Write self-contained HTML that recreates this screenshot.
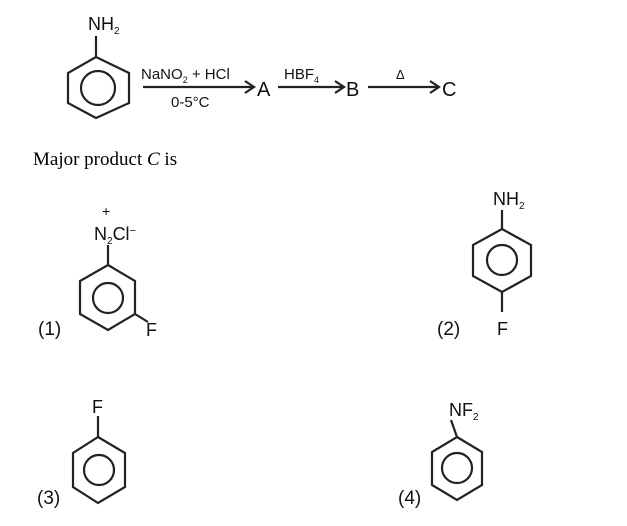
<!DOCTYPE html>
<html><head><style>body{margin:0;background:#fff}svg{display:block}</style></head><body>
<svg width="627" height="526" viewBox="0 0 627 526" xmlns="http://www.w3.org/2000/svg" font-family="Liberation Sans, sans-serif" fill="#111">
<g stroke="#222" stroke-width="2.2" fill="none">
<polygon points="96,57 129,73 129,103 96,118 68,103 68,73"/><circle cx="98" cy="88" r="17"/><line x1="96" y1="57" x2="96" y2="36"/>
<line x1="143" y1="87" x2="253" y2="87"/><polyline points="245,81 254,87 245,93"/>
<line x1="278" y1="87" x2="343" y2="87"/><polyline points="335,81 344,87 335,93"/>
<line x1="368" y1="87" x2="438" y2="87"/><polyline points="430,81 439,87 430,93"/>
<polygon points="108,265 135,281 135,314 108,330 80,314 80,281"/><circle cx="108" cy="298" r="15"/><line x1="108" y1="265" x2="108" y2="245"/><line x1="135" y1="314" x2="148" y2="322"/>
<polygon points="502,229 531,245 531,276 502,292 473,276 473,245"/><circle cx="502" cy="260" r="15"/><line x1="502" y1="229" x2="502" y2="210"/><line x1="502" y1="292" x2="502" y2="312"/>
<polygon points="98,437 125,453 125,487 98,503 73,487 73,453"/><circle cx="99" cy="470" r="15"/><line x1="98" y1="437" x2="98" y2="416"/>
<polygon points="457,437 482,452 482,485 457,500 432,485 432,452"/><circle cx="457" cy="468" r="15"/><line x1="457" y1="437" x2="451" y2="420"/>
</g>
<g font-size="18">
<text x="88" y="30">NH<tspan font-size="10" dy="4">2</tspan></text>
<text x="141" y="79" font-size="15">NaNO<tspan font-size="9" dy="4">2</tspan><tspan dy="-4"> + HCl</tspan></text>
<text x="171" y="107" font-size="15">0-5°C</text>
<text x="257" y="96" font-size="20">A</text>
<text x="284" y="79" font-size="15">HBF<tspan font-size="9" dy="4">4</tspan></text>
<text x="346" y="96" font-size="20">B</text>
<text x="396" y="79" font-size="13">Δ</text>
<text x="442" y="96" font-size="20">C</text>
<text x="33" y="165" font-family="Liberation Serif, serif" font-size="19" fill="#000">Major product <tspan font-style="italic">C</tspan> is</text>
<text x="102" y="216" font-size="14">+</text>
<text x="94" y="240">N<tspan font-size="10" dy="4">2</tspan><tspan dy="-4">Cl</tspan><tspan font-size="11" dy="-6">−</tspan></text>
<text x="146" y="336">F</text>
<text x="38" y="335" font-size="19">(1)</text>
<text x="493" y="205">NH<tspan font-size="10" dy="4">2</tspan></text>
<text x="497" y="335">F</text>
<text x="437" y="335" font-size="19">(2)</text>
<text x="92" y="413">F</text>
<text x="37" y="504" font-size="19">(3)</text>
<text x="449" y="416">NF<tspan font-size="10" dy="4">2</tspan></text>
<text x="398" y="504" font-size="19">(4)</text>
</g>
</svg>
</body></html>
